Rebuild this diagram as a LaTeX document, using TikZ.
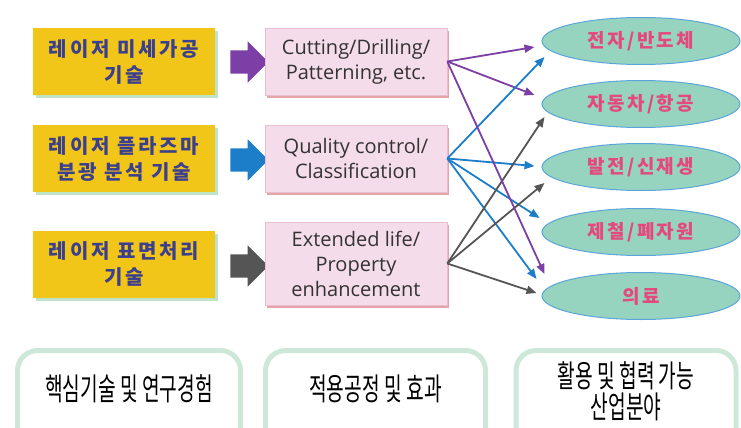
\documentclass[tikz,border=0pt]{standalone}
\usepackage{fontspec}
\setmainfont{Open Sans}
\newfontfamily\kr{Noto Sans CJK KR}
\newfontfamily\krs[LetterSpace=12]{Noto Sans CJK KR}
\newfontfamily\kry[LetterSpace=14]{Noto Sans CJK KR}
\newfontfamily\krc[FakeStretch=0.62]{Noto Sans CJK KR}
\usetikzlibrary{shapes.geometric,shapes.arrows,shadows,arrows.meta,calc}
\definecolor{ybox}{HTML}{F2C519}
\definecolor{yshadow}{HTML}{BFE3C6}
\definecolor{ytext}{HTML}{3B3F8F}
\definecolor{pfill}{HTML}{F4DCEA}
\definecolor{pline}{HTML}{E9BFD0}
\definecolor{pshadow}{HTML}{E3A5A8}
\definecolor{ptext}{HTML}{333333}
\definecolor{efill}{HTML}{97D4BF}
\definecolor{eline}{HTML}{5AA5D8}
\definecolor{etext}{HTML}{E4487C}
\definecolor{cpurple}{HTML}{7B3FA6}
\definecolor{cblue}{HTML}{1C7DC9}
\definecolor{cgray}{HTML}{555555}
\definecolor{gframe}{HTML}{CDE8D8}
\begin{document}
\begin{tikzpicture}[x=1pt,y=-1pt,
  ybx/.style={fill=ybox, minimum width=182pt, minimum height=67pt, inner sep=0pt, align=center,
    font=\kry\bfseries\fontsize{20}{26}\selectfont, text=ytext,
    drop shadow={shadow xshift=3pt, shadow yshift=-3pt, fill=yshadow, opacity=1}},
  pbx/.style={fill=pfill, draw=pline, line width=0.6pt, minimum width=182pt, inner sep=0pt, align=center,
    font=\fontsize{20}{25}\selectfont, text=ptext,
    drop shadow={shadow xshift=2pt, shadow yshift=-3pt, fill=pshadow, opacity=1}},
  ell/.style={ellipse, fill=efill, draw=eline, line width=1pt, minimum width=198pt, minimum height=47pt,
    inner sep=0pt, font=\krs\bfseries\fontsize{19}{22}\selectfont, text=etext},
  barrow/.style={single arrow, single arrow head extend=9pt, minimum height=38pt,
    inner sep=0pt, draw=none},
  conn/.style={line width=1.8pt, -{Triangle[length=10pt,width=8pt]}},
  gbx/.style={draw=gframe, line width=5pt, rounded corners=20pt, minimum height=105pt, fill=white, inner sep=0pt},
  glabel/.style={font=\krc\fontsize{31}{31}\selectfont, text=black, align=center}
]
\useasboundingbox (0,0) rectangle (741,428);

% left yellow boxes
\node[ybx] (y1) at (124,61.5) {레이저 미세가공\\기술};
\node[ybx] (y2) at (124,158.5) {레이저 플라즈마\\분광 분석 기술};
\node[ybx] (y3) at (124,264) {레이저 표면처리\\기술};

% block arrows
\node[barrow, fill=cpurple] (a1) at (243.5,62) {\rule{0pt}{23pt}};
\node[barrow, fill=cblue] (a2) at (243.5,160) {\rule{0pt}{23pt}};
\node[barrow, fill=cgray] (a3) at (243.5,266) {\rule{0pt}{23pt}};

% pink boxes
\node[pbx, minimum height=67pt] (p1) at (356,61.5) {Cutting/Drilling/\\Patterning, etc.};
\node[pbx, minimum height=67pt] (p2) at (356,158.5) {Quality control/\\Classification};
\node[pbx, minimum height=83pt] (p3) at (356,263.5) {Extended life/\\Property\\enhancement};

% ellipses
\node[ell] (e1) at (641,41) {전자/반도체};
\node[ell] (e2) at (641,104) {자동차/항공};
\node[ell] (e3) at (641,167) {발전/신재생};
\node[ell] (e4) at (641,232) {제철/폐자원};
\node[ell] (e5) at (641,296) {의료};

% connectors
\draw[conn, cpurple] (p1.east) -- ($(e1.west)+(-7,6)$);
\draw[conn, cpurple] (p1.east) -- ($(e2.west)+(-7,-9)$);
\draw[conn, cblue] (p2.east) -- ($(e1.west)+(3,16)$);
\draw[conn, cblue] (p2.east) -- ($(e3.west)+(-7,-1)$);
\draw[conn, cblue] (p2.east) -- ($(e4.west)+(-2,-14)$);
\draw[conn, cblue] (p2.east) -- ($(e5.west)+(-5,-17)$);
\draw[conn, cgray] (p3.east) -- ($(e2.west)+(3,13)$);
\draw[conn, cgray] (p3.east) -- ($(e3.west)+(3,16)$);
\draw[conn, cgray] (p3.east) -- ($(e5.west)+(-5,-3)$);
\draw[conn, cpurple] (p1.east) -- ($(e5.west)+(3,-22)$);

% bottom frames
\node[gbx, minimum width=223pt, label={[glabel, yshift=14pt]center:핵심기술 및 연구경험}] (b1) at (129,403) {};
\node[gbx, minimum width=220pt, label={[glabel, yshift=14pt]center:적용공정 및 효과}] (b2) at (375.5,403) {};
\node[gbx, minimum width=220pt, label={[glabel, yshift=11.5pt]center:활용 및 협력 가능\\산업분야}] (b3) at (626,403) {};
\end{tikzpicture}
\end{document}
